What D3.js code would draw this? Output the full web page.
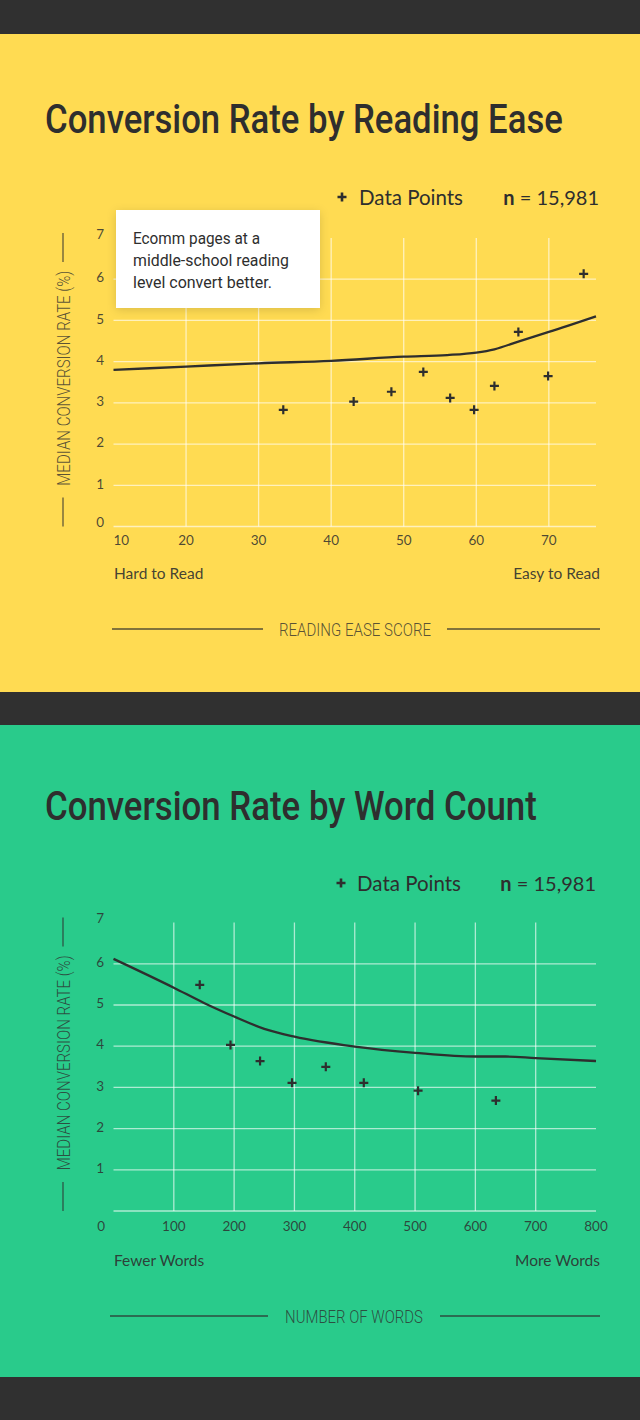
<!DOCTYPE html>
<html>
<head>
<meta charset="utf-8">
<script src="https://cdn.jsdelivr.net/npm/d3@7"></script>
<style>
  html, body { margin: 0; padding: 0; background: #303030; }
  svg { display: block; }
</style>
</head>
<body>
<svg id="chart" width="640" height="1420"></svg>
<script>
// ---------- DATA ----------
const yTicks = [0, 1, 2, 3, 4, 5, 6, 7];

// Chart 1: Reading ease
const readingTicksX = [10, 20, 30, 40, 50, 60, 70];
const readingPointsX = [33.4, 43.1, 48.3, 52.7, 56.4, 59.7, 62.5, 65.8, 69.9, 74.8];
const readingPointsY = [2.83, 3.03, 3.27, 3.75, 3.12, 2.83, 3.41, 4.72, 3.65, 6.13];
const readingTrendX = [10, 20, 30, 40, 50, 56, 60, 62.5, 66, 70, 76.5];
const readingTrendY = [3.80, 3.88, 3.96, 4.02, 4.12, 4.16, 4.22, 4.30, 4.50, 4.72, 5.10];
const readingNote = ["Ecomm pages at a", "middle-school reading", "level convert better."];

// Chart 2: Word count
const wordTicksX = [100, 200, 300, 400, 500, 600, 700, 800];
const wordPointsX = [143, 194, 243, 296, 352, 415, 505, 634];
const wordPointsY = [5.49, 4.03, 3.64, 3.11, 3.50, 3.11, 2.92, 2.68];
const wordTrendX = [0, 100, 150, 200, 250, 300, 400, 500, 600, 650, 700, 800];
const wordTrendY = [6.12, 5.42, 5.05, 4.72, 4.42, 4.23, 3.99, 3.84, 3.75, 3.75, 3.71, 3.64];

// ---------- LAYOUT ----------
const DARK = "#303030";
const INK = "#2e2e2e";
const svg = d3.select("#chart");
const defs = svg.append("defs");
const f = defs.append("filter").attr("id", "shadow")
  .attr("x", "-20%").attr("y", "-20%").attr("width", "140%").attr("height", "140%");
f.append("feDropShadow").attr("dx", 0).attr("dy", 2).attr("stdDeviation", 5)
  .attr("flood-color", "#000").attr("flood-opacity", 0.14);

svg.append("rect").attr("x", 0).attr("y", 0).attr("width", 640).attr("height", 1420).attr("fill", DARK);

const charts = [
  {
    bg: "#FFDB52", top: 34, bottom: 692,
    title: "Conversion Rate by Reading Ease", titleY: 133, titleW: 518,
    legendY: 198, plusX: 342, dpX: 359, nEnd: 599,
    domainX: [10, 76.5], plotTop: 238, plotBottom: 526.5,
    ticksX: readingTicksX, firstTickStart: true, zeroOnXRow: false,
    xLabelY: 540, px: readingPointsX, py: readingPointsY, tx: readingTrendX, ty: readingTrendY,
    leftLabel: "Hard to Read", rightLabel: "Easy to Read", endLabelY: 574,
    axisTitle: "READING EASE SCORE", axisTitleW: 152, axisTitleY: 630,
    lineL: [112, 263], lineR: [447, 600],
    note: readingNote
  },
  {
    bg: "#29CB8B", top: 725, bottom: 1377,
    title: "Conversion Rate by Word Count", titleY: 820, titleW: 492,
    legendY: 884, plusX: 341, dpX: 357, nEnd: 596,
    domainX: [0, 800], plotTop: 922.6, plotBottom: 1211,
    ticksX: wordTicksX, firstTickStart: false, zeroOnXRow: true,
    xLabelY: 1226, px: wordPointsX, py: wordPointsY, tx: wordTrendX, ty: wordTrendY,
    leftLabel: "Fewer Words", rightLabel: "More Words", endLabelY: 1261,
    axisTitle: "NUMBER OF WORDS", axisTitleW: 138, axisTitleY: 1317,
    lineL: [110, 268], lineR: [440, 600],
    note: null
  }
];

const plotLeft = 113.5, plotRight = 596;

function plus(g, x, y, r, w) {
  g.append("path")
    .attr("d", `M${x - r},${y}H${x + r}M${x},${y - r}V${y + r}`)
    .attr("stroke", INK).attr("stroke-width", w).attr("fill", "none");
}

// condensed text: place at (x,y), measure natural width, squeeze horizontally to width w
function fitText(sel, x, y, w, rotate) {
  const nat = sel.node().getComputedTextLength();
  const s = Math.min(1, w / nat);
  sel.attr("x", 0).attr("y", 0)
    .attr("transform", `translate(${x},${y})${rotate ? " rotate(-90)" : ""} scale(${s},1)`);
  return sel;
}

charts.forEach(c => {
  const g = svg.append("g");
  g.append("rect").attr("x", 0).attr("y", c.top).attr("width", 640)
    .attr("height", c.bottom - c.top).attr("fill", c.bg);

  // title
  const title = g.append("text")
    .attr("font-family", "Roboto, 'DejaVu Sans', sans-serif").attr("font-weight", 500)
    .attr("font-size", 41).attr("fill", INK)
    .text(c.title);
  fitText(title, 45, c.titleY, c.titleW, false);

  // legend
  plus(g, c.plusX, c.legendY - 1, 4.5, 2.6);
  g.append("text").attr("x", c.dpX).attr("y", c.legendY + 7)
    .attr("font-family", "Lato, 'Open Sans', sans-serif").attr("font-size", 20.5)
    .attr("fill", INK).text("Data Points");
  const nt = g.append("text").attr("x", c.nEnd).attr("y", c.legendY + 7)
    .attr("text-anchor", "end")
    .attr("font-family", "Lato, 'Open Sans', sans-serif").attr("font-size", 20).attr("fill", INK);
  nt.append("tspan").attr("font-weight", 700).text("n");
  nt.append("tspan").text(" = 15,981");

  // scales
  const x = d3.scaleLinear().domain(c.domainX).range([plotLeft, plotRight]);
  const y = d3.scaleLinear().domain([0, 7]).range([c.plotBottom, c.plotTop]);

  // grid
  const grid = g.append("g").attr("stroke", "#fff").attr("stroke-opacity", 0.62).attr("stroke-width", 1.3);
  grid.selectAll("line.h").data(yTicks.filter(t => t < 7)).join("line")
    .attr("x1", plotLeft).attr("x2", plotRight)
    .attr("y1", d => y(d)).attr("y2", d => y(d));
  grid.selectAll("line.v").data(c.ticksX.filter(t => x(t) > plotLeft + 5 && x(t) < plotRight - 5)).join("line")
    .attr("class", "v")
    .attr("x1", d => x(d)).attr("x2", d => x(d))
    .attr("y1", y(7)).attr("y2", y(0));

  // y tick labels
  const labFont = "'Source Sans Pro', Lato, 'Open Sans', sans-serif";
  g.selectAll("text.yl").data(yTicks.filter(t => !(c.zeroOnXRow && t === 0))).join("text")
    .attr("class", "yl")
    .attr("x", 104).attr("y", d => y(d) - (d === 0 || d === 7 ? 4 : 1.5))
    .attr("dy", "0.35em").attr("text-anchor", "end")
    .attr("font-family", labFont).attr("font-size", 13.5).attr("fill", INK).attr("fill-opacity", 0.85)
    .text(d => d);
  if (c.zeroOnXRow) {
    g.append("text").attr("x", 105).attr("y", c.xLabelY).attr("dy", "0.35em")
      .attr("text-anchor", "end")
      .attr("font-family", labFont).attr("font-size", 13.5).attr("fill", INK).attr("fill-opacity", 0.85)
      .text("0");
  }

  // x tick labels
  g.selectAll("text.xl").data(c.ticksX).join("text")
    .attr("class", "xl")
    .attr("x", (d, i) => (c.firstTickStart && i === 0) ? plotLeft : x(d))
    .attr("y", c.xLabelY).attr("dy", "0.35em")
    .attr("text-anchor", (d, i) => (c.firstTickStart && i === 0) ? "start" : "middle")
    .attr("font-family", labFont).attr("font-size", 13.5).attr("fill", INK).attr("fill-opacity", 0.85)
    .text(d => d);

  // y axis title (rotated) with dashes
  const tTop = c.plotTop, tBot = c.plotBottom;
  const midY = (tTop + tBot) / 2 - 4;
  const ax = 63;
  g.append("line").attr("x1", ax).attr("x2", ax).attr("y1", tTop - 5).attr("y2", tTop + 24)
    .attr("stroke", INK).attr("stroke-opacity", 0.75).attr("stroke-width", 1.3);
  g.append("line").attr("x1", ax).attr("x2", ax).attr("y1", tBot - 29).attr("y2", tBot)
    .attr("stroke", INK).attr("stroke-opacity", 0.75).attr("stroke-width", 1.3);
  const yt = g.append("text")
    .attr("text-anchor", "middle")
    .attr("font-family", "Roboto, sans-serif").attr("font-weight", 300).attr("font-size", 18)
    .attr("fill", INK).attr("fill-opacity", 0.8)
    .text("MEDIAN CONVERSION RATE (%)");
  fitText(yt, ax + 6.5, midY, 215, true);

  // trend line
  const line = d3.line().x((d, i) => x(c.tx[i])).y((d, i) => y(c.ty[i])).curve(d3.curveMonotoneX);
  g.append("path").attr("d", line(c.tx)).attr("fill", "none")
    .attr("stroke", INK).attr("stroke-width", 2.3);

  // points
  c.px.forEach((v, i) => plus(g, x(v), y(c.py[i]), 4.5, 2.2));

  // end labels
  g.append("text").attr("x", 114).attr("y", c.endLabelY).attr("dy", "0.35em")
    .attr("font-family", labFont).attr("font-size", 15.5).attr("fill", INK).attr("fill-opacity", 0.9)
    .text(c.leftLabel);
  g.append("text").attr("x", 600).attr("y", c.endLabelY).attr("dy", "0.35em")
    .attr("text-anchor", "end")
    .attr("font-family", labFont).attr("font-size", 15.5).attr("fill", INK).attr("fill-opacity", 0.9)
    .text(c.rightLabel);

  // x axis title with rules
  g.append("line").attr("x1", c.lineL[0]).attr("x2", c.lineL[1])
    .attr("y1", c.axisTitleY - 1).attr("y2", c.axisTitleY - 1)
    .attr("stroke", INK).attr("stroke-opacity", 0.8).attr("stroke-width", 1.3);
  g.append("line").attr("x1", c.lineR[0]).attr("x2", c.lineR[1])
    .attr("y1", c.axisTitleY - 1).attr("y2", c.axisTitleY - 1)
    .attr("stroke", INK).attr("stroke-opacity", 0.8).attr("stroke-width", 1.3);
  const xt = g.append("text")
    .attr("text-anchor", "middle").attr("dy", "0.35em")
    .attr("font-family", "Roboto, sans-serif").attr("font-weight", 300).attr("font-size", 18)
    .attr("fill", INK).attr("fill-opacity", 0.8)
    .text(c.axisTitle);
  fitText(xt, (c.lineL[1] + c.lineR[0]) / 2, c.axisTitleY, c.axisTitleW, false);

  // annotation
  if (c.note) {
    g.append("rect").attr("x", 116).attr("y", 210).attr("width", 204).attr("height", 98)
      .attr("fill", "#fff").attr("filter", "url(#shadow)");
    const widths = [127, 156, 139];
    c.note.forEach((s, i) => {
      const t = g.append("text").attr("dy", "0.35em")
        .attr("font-family", "Roboto, sans-serif").attr("font-size", 17).attr("fill", INK)
        .text(s);
      fitText(t, 133, 238.5 + i * 21.7, widths[i], false);
    });
  }
});
</script>
</body>
</html>
